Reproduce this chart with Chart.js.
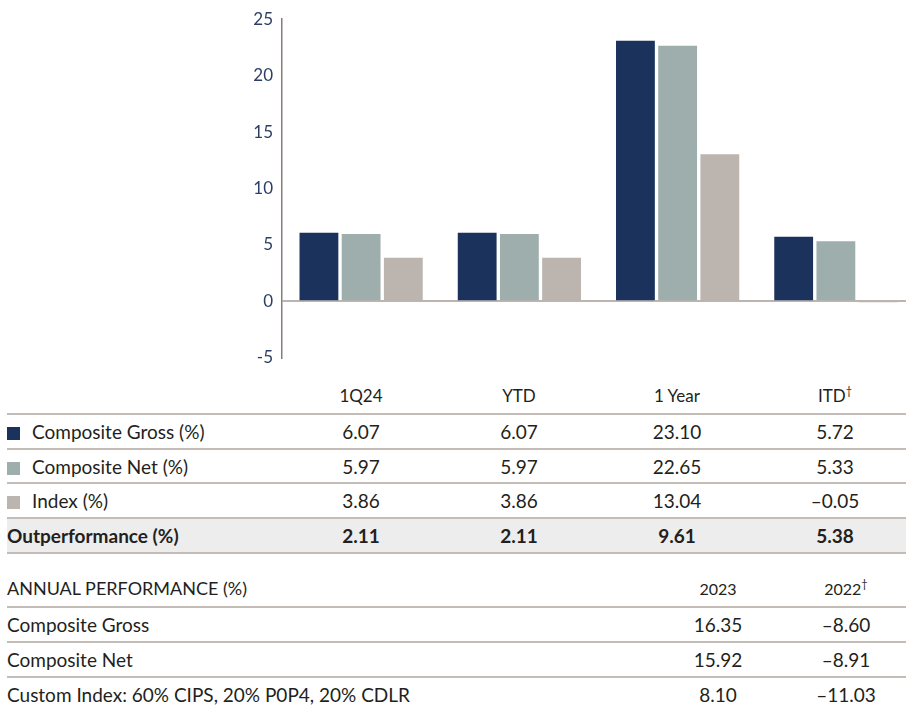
<!DOCTYPE html>
<html>
<head>
<meta charset="utf-8">
<script src="https://cdn.jsdelivr.net/npm/chart.js@4.4.1/dist/chart.umd.min.js"></script>
<style>
  html, body { margin: 0; padding: 0; background: #fff; overflow: hidden; width: 906px; height: 710px; }
  body { position: relative; font-family: Lato, "Noto Sans", sans-serif; color: #231f20; }
  #chartWrap { position: absolute; left: 0; top: 0; width: 915px; height: 377px; }
  table { border-collapse: collapse; position: absolute; table-layout: fixed; }
  td { padding: 0; white-space: nowrap; }
  #perf { left: 7px; top: 377px; width: 907px; }
  #perf td { height: 32.7px; font-size: 19px; text-align: center; border-bottom: 2px solid #c3bcb7; }
  #perf tr.head td { height: 36px; font-size: 17px; }
  #perf td.lbl { text-align: left; }
  #perf tr.out td { background: #ededee; font-weight: bold; }
  .sw { display: inline-block; width: 13px; height: 13px; margin-right: 12px; vertical-align: -1px; }
  #annual { left: 7px; top: 570px; width: 903px; }
  #annual td { height: 33px; font-size: 19px; text-align: center; border-bottom: 2px solid #c3bcb7; }
  #annual tr.head td { height: 36px; font-size: 16px; }
  #annual tr.head td.lbl { font-size: 18px; }
  #annual tr:last-child td { border-bottom: none; }
  #annual td.lbl { text-align: left; }
  sup { font-size: 11px; vertical-align: 7px; line-height: 0; }
</style>
</head>
<body>
<div id="chartWrap"><canvas id="perfChart"></canvas></div>
<table id="perf"><colgroup><col style="width:275px"><col style="width:158px"><col style="width:158px"><col style="width:158px"><col style="width:158px"></colgroup><tbody></tbody></table>
<table id="annual"><colgroup><col style="width:647px"><col style="width:128px"><col style="width:128px"></colgroup><tbody></tbody></table>
<script>
// periods shown on the chart and in the table under it
const periods = ['1Q24', 'YTD', '1 Year', 'ITD'];
const periodMarks = ['', '', '', '†'];
const compositeGross = [6.07, 6.07, 23.10, 5.72];
const compositeNet = [5.97, 5.97, 22.65, 5.33];
const indexReturn = [3.86, 3.86, 13.04, -0.05];
const outperformance = [2.11, 2.11, 9.61, 5.38];

// annual performance block
const years = ['2023', '2022'];
const yearMarks = ['', '†'];
const annualLabels = ['Composite Gross', 'Composite Net', 'Custom Index: 60% CIPS, 20% P0P4, 20% CDLR'];
const annualGross = [16.35, -8.60];
const annualNet = [15.92, -8.91];
const annualIndex = [8.10, -11.03];

const yTicks = [-5, 0, 5, 10, 15, 20, 25];

const colGross = '#1b335c';
const colNet = '#9daeac';
const colIndex = '#bcb4af';

function fmt(v) {
    let s = v.toFixed(2);
    return s.replace('-', '–');
}

// chart
const ctx = document.getElementById('perfChart');
new Chart(ctx, {
    type: 'bar',
    data: {
        labels: periods,
        datasets: [
            { label: 'Composite Gross (%)', data: compositeGross, backgroundColor: colGross },
            { label: 'Composite Net (%)', data: compositeNet, backgroundColor: colNet },
            { label: 'Index (%)', data: indexReturn, backgroundColor: colIndex }
        ]
    },
    options: {
        responsive: true,
        maintainAspectRatio: false,
        animation: false,
        datasets: { bar: { categoryPercentage: 0.8, barPercentage: 0.92 } },
        layout: { padding: { top: 0, bottom: 0, left: 0, right: 0 } },
        scales: {
            x: {
                display: false
            },
            y: {
                min: -5,
                max: 25,
                afterFit: function(scale) { scale.width = 282; },
                afterBuildTicks: function(scale) { scale.ticks = yTicks.map(v => ({ value: v })); },
                border: { display: true, color: '#877d78', width: 1.5 },
                grid: {
                    drawTicks: false,
                    lineWidth: 2,
                    color: function(c) { return c.tick && c.tick.value === 0 ? '#bcb4af' : 'rgba(0,0,0,0)'; }
                },
                ticks: {
                    padding: 9,
                    color: '#2c3e66',
                    font: { family: 'Lato', size: 17 }
                }
            }
        },
        plugins: {
            legend: { display: false },
            tooltip: { enabled: false }
        }
    }
});

// performance table
const perfBody = document.querySelector('#perf tbody');
let head = '<tr class="head"><td class="lbl"></td>';
periods.forEach((p, i) => {
    head += '<td>' + p + (periodMarks[i] ? '<sup>' + periodMarks[i] + '</sup>' : '') + '</td>';
});
perfBody.innerHTML += head + '</tr>';
const perfRows = [
    ['Composite Gross (%)', compositeGross, colGross, ''],
    ['Composite Net (%)', compositeNet, colNet, ''],
    ['Index (%)', indexReturn, colIndex, ''],
    ['Outperformance (%)', outperformance, null, 'out']
];
perfRows.forEach(r => {
    let html = '<tr class="' + r[3] + '"><td class="lbl">';
    if (r[2]) html += '<span class="sw" style="background:' + r[2] + '"></span>';
    html += r[0] + '</td>';
    r[1].forEach(v => { html += '<td>' + fmt(v) + '</td>'; });
    perfBody.innerHTML += html + '</tr>';
});

// annual table
const annBody = document.querySelector('#annual tbody');
let ahead = '<tr class="head"><td class="lbl">ANNUAL PERFORMANCE (%)</td>';
years.forEach((y, i) => {
    ahead += '<td>' + y + (yearMarks[i] ? '<sup>' + yearMarks[i] + '</sup>' : '') + '</td>';
});
annBody.innerHTML += ahead + '</tr>';
[annualGross, annualNet, annualIndex].forEach((vals, i) => {
    let html = '<tr><td class="lbl">' + annualLabels[i] + '</td>';
    vals.forEach(v => { html += '<td>' + fmt(v) + '</td>'; });
    annBody.innerHTML += html + '</tr>';
});
</script>
</body>
</html>
